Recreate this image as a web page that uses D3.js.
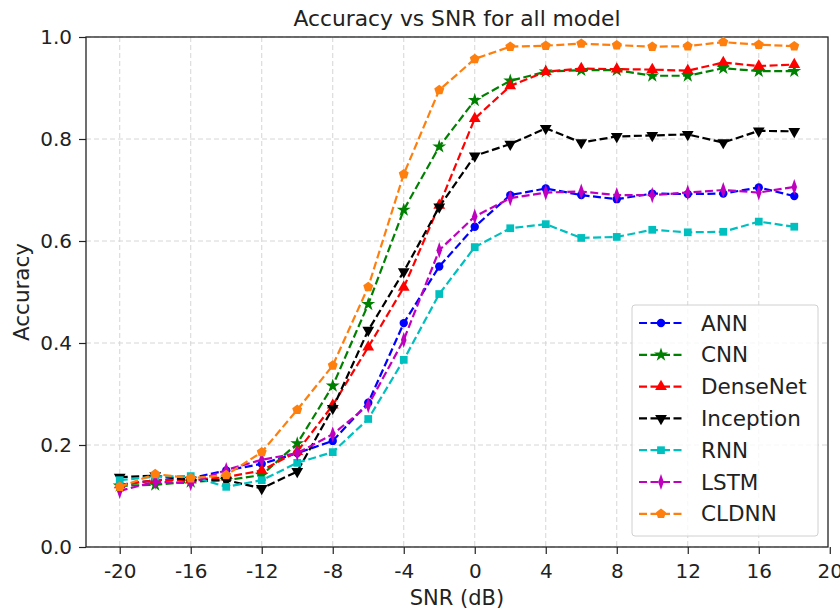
<!DOCTYPE html>
<html>
<head>
<meta charset="utf-8">
<script src="https://cdn.jsdelivr.net/npm/d3@7"></script>
<style>
  body { margin: 0; background: #fff; }
  text { font-family: "DejaVu Sans", sans-serif; fill: #222; }
</style>
</head>
<body>
<script>
const width = 840;
const height = 613;
const margin = { top: 37, right: 12, bottom: 66, left: 86 };

// SNR values (dB)
const snr = [-20, -18, -16, -14, -12, -10, -8, -6, -4, -2, 0, 2, 4, 6, 8, 10, 12, 14, 16, 18];

const ann       = [0.122, 0.131, 0.135, 0.150, 0.163, 0.184, 0.208, 0.283, 0.439, 0.550, 0.628, 0.690, 0.703, 0.690, 0.682, 0.693, 0.692, 0.693, 0.705, 0.688];
const cnn       = [0.120, 0.122, 0.128, 0.131, 0.141, 0.203, 0.316, 0.476, 0.661, 0.785, 0.876, 0.914, 0.932, 0.935, 0.935, 0.924, 0.924, 0.939, 0.933, 0.933];
const densenet  = [0.122, 0.131, 0.131, 0.137, 0.150, 0.187, 0.278, 0.392, 0.509, 0.670, 0.840, 0.904, 0.932, 0.938, 0.937, 0.936, 0.934, 0.950, 0.943, 0.946];
const inception = [0.137, 0.140, 0.131, 0.131, 0.115, 0.148, 0.272, 0.425, 0.540, 0.667, 0.767, 0.790, 0.821, 0.793, 0.805, 0.807, 0.809, 0.793, 0.816, 0.815];
const rnn       = [0.131, 0.138, 0.139, 0.118, 0.131, 0.165, 0.186, 0.251, 0.367, 0.496, 0.588, 0.625, 0.633, 0.606, 0.608, 0.622, 0.617, 0.618, 0.638, 0.628];
const lstm      = [0.110, 0.128, 0.125, 0.151, 0.171, 0.184, 0.221, 0.278, 0.406, 0.582, 0.648, 0.684, 0.695, 0.697, 0.690, 0.690, 0.695, 0.700, 0.695, 0.706];
const cldnn     = [0.118, 0.143, 0.135, 0.141, 0.186, 0.269, 0.356, 0.510, 0.731, 0.896, 0.957, 0.981, 0.983, 0.987, 0.984, 0.981, 0.982, 0.990, 0.985, 0.982];

const modelNames = ['ANN', 'CNN', 'DenseNet', 'Inception', 'RNN', 'LSTM', 'CLDNN'];
const modelValues = [ann, cnn, densenet, inception, rnn, lstm, cldnn];
const modelColors = ['#0000ff', '#008000', '#ff0000', '#000000', '#00bfbf', '#bf00bf', '#ff7f0e'];
const modelMarkers = ['circle', 'star', 'triangleUp', 'triangleDown', 'square', 'thinDiamond', 'pentagon'];

const xTicks = [-20, -16, -12, -8, -4, 0, 4, 8, 12, 16, 20];
const yTicks = [0.0, 0.2, 0.4, 0.6, 0.8, 1.0];

const pentagon = {
  draw(context, size) {
    const r = Math.sqrt(size / 2.378);
    for (let i = 0; i < 5; i++) {
      const a = -Math.PI / 2 + i * 2 * Math.PI / 5;
      if (i === 0) context.moveTo(r * Math.cos(a), r * Math.sin(a));
      else context.lineTo(r * Math.cos(a), r * Math.sin(a));
    }
    context.closePath();
  }
};

function markerPath(kind) {
  switch (kind) {
    case 'circle': return { d: d3.symbol(d3.symbolCircle, 55)(), t: '' };
    case 'star': return { d: d3.symbol(d3.symbolStar, 60)(), t: '' };
    case 'triangleUp': return { d: d3.symbol(d3.symbolTriangle, 60)(), t: '' };
    case 'triangleDown': return { d: d3.symbol(d3.symbolTriangle, 60)(), t: ' rotate(180)' };
    case 'square': return { d: d3.symbol(d3.symbolSquare, 60)(), t: '' };
    case 'thinDiamond': return { d: d3.symbol(d3.symbolDiamond, 75)(), t: ' scale(0.6,1)' };
    case 'pentagon': return { d: d3.symbol(pentagon, 65)(), t: '' };
  }
}

const svg = d3.select('body').append('svg')
  .attr('width', width)
  .attr('height', height);

const innerW = width - margin.left - margin.right;
const innerH = height - margin.top - margin.bottom;

const x = d3.scaleLinear().domain([-21.9, 19.9]).range([margin.left, margin.left + innerW]);
const y = d3.scaleLinear().domain([0, 1]).range([margin.top + innerH, margin.top]);

// grid
svg.append('g').selectAll('line')
  .data(xTicks.filter(t => t < 19.9))
  .join('line')
  .attr('x1', d => x(d)).attr('x2', d => x(d))
  .attr('y1', margin.top).attr('y2', margin.top + innerH)
  .attr('stroke', '#d6d6d6').attr('stroke-dasharray', '5,3').attr('stroke-width', 1);
svg.append('g').selectAll('line')
  .data(yTicks)
  .join('line')
  .attr('x1', margin.left).attr('x2', margin.left + innerW)
  .attr('y1', d => y(d)).attr('y2', d => y(d))
  .attr('stroke', '#d6d6d6').attr('stroke-dasharray', '5,3').attr('stroke-width', 1);

// axes
const xAxis = svg.append('g')
  .attr('transform', `translate(0,${margin.top + innerH})`)
  .call(d3.axisBottom(x).tickValues(xTicks).tickSize(7).tickPadding(10).tickFormat(d3.format('d')));
const yAxis = svg.append('g')
  .attr('transform', `translate(${margin.left},0)`)
  .call(d3.axisLeft(y).tickValues(yTicks).tickSize(7).tickPadding(7).tickFormat(d3.format('.1f')));
[xAxis, yAxis].forEach(g => {
  g.select('.domain').remove();
  g.selectAll('.tick line').attr('stroke', '#222').attr('stroke-width', 1.2);
  g.selectAll('.tick text').attr('font-size', 20).attr('font-family', '"DejaVu Sans", sans-serif').attr('fill', '#222');
});
xAxis.selectAll('.tick text').text(d => d < 0 ? '-' + Math.abs(d) : d);

// frame
svg.append('rect')
  .attr('x', margin.left).attr('y', margin.top)
  .attr('width', innerW).attr('height', innerH)
  .attr('fill', 'none').attr('stroke', '#222').attr('stroke-width', 1.3);

// lines and markers
const line = d3.line().x((d, i) => x(snr[i])).y(d => y(d));

modelValues.forEach((vals, k) => {
  svg.append('path')
    .datum(vals)
    .attr('d', line)
    .attr('fill', 'none')
    .attr('stroke', modelColors[k])
    .attr('stroke-width', 2.2)
    .attr('stroke-dasharray', '8,3.5');
  const m = markerPath(modelMarkers[k]);
  svg.append('g').selectAll('path')
    .data(vals)
    .join('path')
    .attr('d', m.d)
    .attr('transform', (d, i) => `translate(${x(snr[i])},${y(d)})${m.t}`)
    .attr('fill', modelColors[k]);
});

// title and labels
svg.append('text')
  .attr('x', margin.left + innerW / 2).attr('y', 26)
  .attr('text-anchor', 'middle').attr('font-size', 21.8)
  .text('Accuracy vs SNR for all model');
svg.append('text')
  .attr('x', margin.left + innerW / 2).attr('y', 605)
  .attr('text-anchor', 'middle').attr('font-size', 21)
  .text('SNR (dB)');
svg.append('text')
  .attr('transform', `translate(29,${margin.top + innerH / 2}) rotate(-90)`)
  .attr('text-anchor', 'middle').attr('font-size', 21.5)
  .text('Accuracy');

// legend
const legend = svg.append('g').attr('transform', 'translate(632,305)');
legend.append('rect')
  .attr('width', 186).attr('height', 231).attr('rx', 3)
  .attr('fill', 'rgba(255,255,255,0.8)').attr('stroke', '#d0d0d0');
modelNames.forEach((name, k) => {
  const ly = 18 + k * 31.8;
  legend.append('line')
    .attr('x1', 7).attr('x2', 51).attr('y1', ly).attr('y2', ly)
    .attr('stroke', modelColors[k]).attr('stroke-width', 2.2).attr('stroke-dasharray', '8,3.5');
  const m = markerPath(modelMarkers[k]);
  legend.append('path')
    .attr('d', m.d)
    .attr('transform', `translate(29,${ly})${m.t}`)
    .attr('fill', modelColors[k]);
  legend.append('text')
    .attr('x', 69).attr('y', ly + 7.5)
    .attr('font-size', 21.5)
    .text(name);
});
</script>
</body>
</html>
